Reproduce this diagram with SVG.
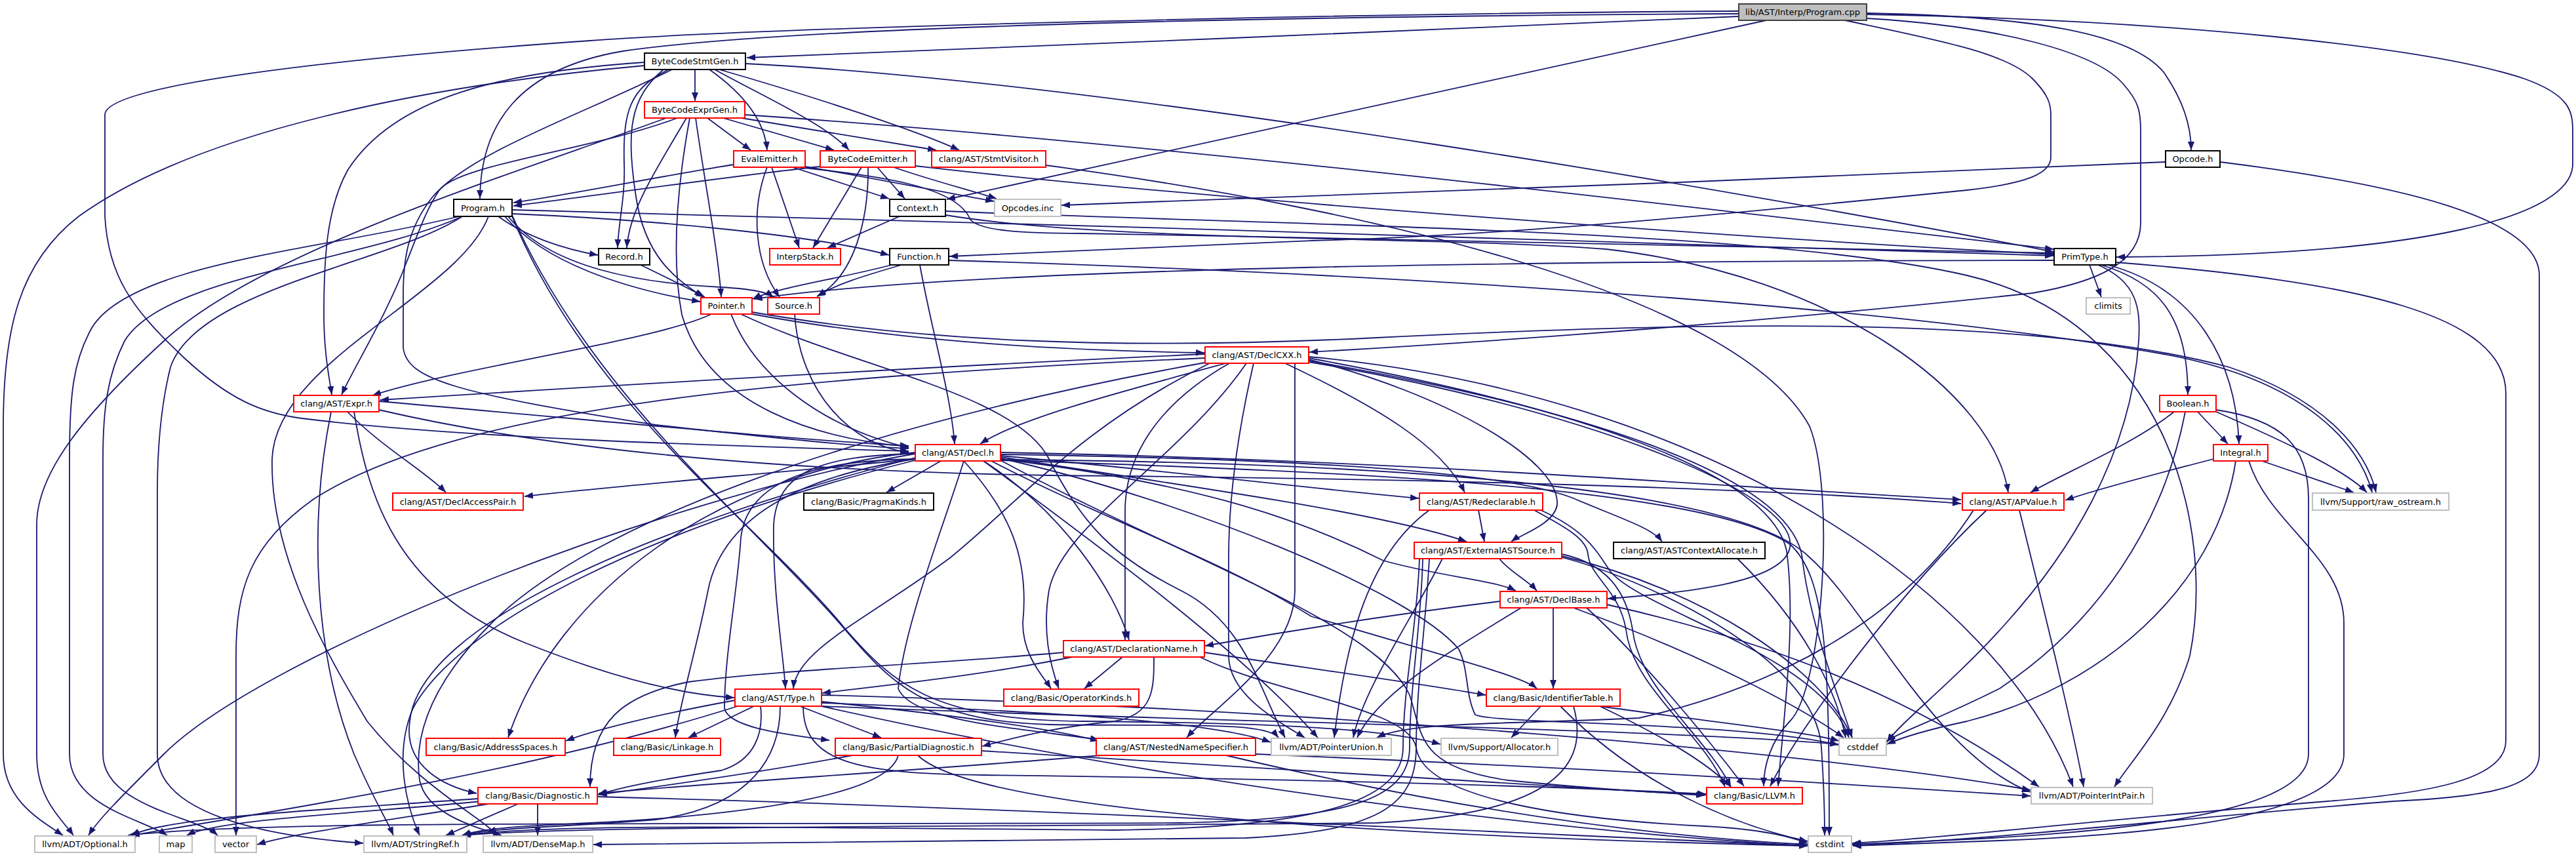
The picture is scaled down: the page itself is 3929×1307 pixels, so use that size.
<svg xmlns="http://www.w3.org/2000/svg" width="3929" height="1307" viewBox="0 0 3929 1307">
<defs>
<style>
.e{fill:none;stroke:#191970;stroke-width:1.8;marker-end:url(#ah)}
.n rect{fill:#fff;stroke-width:2}
.b rect{stroke:#000}
.r rect{stroke:#ff0000}
.g rect{stroke:#bfbfbf}
.root rect{fill:#bfbfbf;stroke:#404040}
.n text{font-family:"DejaVu Sans","Liberation Sans",sans-serif;font-size:13px;text-anchor:middle;fill:#000}
</style>
<marker id="ah" viewBox="0 0 13 10" refX="13" refY="5" markerWidth="13" markerHeight="10" orient="auto" markerUnits="userSpaceOnUse"><path d="M0,0 L13,5 L0,10 Z" fill="#191970"/></marker>
</defs>
<rect width="3929" height="1307" fill="#fff"/>
<g id="edges">
<path class="e" d="M2652,25 C2200,45 1600,70 1139,88"/>
<path class="e" d="M2652,21 C2100,24 1250,35 950,78 C790,105 733,190 732,303"/>
<path class="e" d="M2652,17 C2100,20 1200,40 900,62 C500,90 160,130 160,175 L160,330 C165,420 200,470 280,545 C350,610 400,630 460,638 C700,668 1100,680 1386,688"/>
<path class="e" d="M2694,31 L1444,304"/>
<path class="e" d="M2847,20 C3100,25 3250,50 3300,110 C3335,160 3342,200 3342,229"/>
<path class="e" d="M2847,22 C3300,30 3700,70 3850,120 C3920,145 3924,170 3924,200 L3924,250 C3924,330 3700,390 3228,392"/>
<path class="e" d="M2814,31 C2950,60 3060,80 3100,120 C3125,145 3128,160 3128,175 L3128,240 C3128,265 3090,280 3000,290 C2700,320 2300,360 2000,367 C1800,375 1600,385 1448,391"/>
<path class="e" d="M2847,28 C3050,40 3200,80 3240,130 C3262,155 3265,170 3265,200 L3265,340 C3265,400 3200,430 3100,447 C2700,490 2300,520 1997,537"/>
<path class="e" d="M1060,106 L1060,154"/>
<path class="e" d="M1082,106 C1130,140 1166,180 1170,229"/>
<path class="e" d="M1090,106 C1170,150 1260,190 1295,229"/>
<path class="e" d="M1097,106 C1250,150 1400,200 1463,229"/>
<path class="e" d="M1137,97 C1700,125 2700,300 3132,384"/>
<path class="e" d="M1020,106 C960,135 950,170 952,250 C954,300 943,340 942,378"/>
<path class="e" d="M1012,106 C960,150 955,200 970,300 C985,400 1040,430 1072,453"/>
<path class="e" d="M1025,106 C900,170 720,230 660,300 C620,350 615,400 615,450 L615,530 C620,580 700,600 1000,648 C1200,670 1300,680 1386,684"/>
<path class="e" d="M983,95 C760,110 600,150 530,260 C497,320 494,400 494,480 C494,540 503,580 506,602"/>
<path class="e" d="M983,100 C650,130 300,200 120,330 C30,400 5,500 5,650 L5,1150 C5,1220 60,1250 96,1274"/>
<path class="e" d="M1079,180 L1145,229"/>
<path class="e" d="M1103,180 L1272,229"/>
<path class="e" d="M1131,180 L1428,229"/>
<path class="e" d="M1136,175 C1800,220 2700,330 3132,380"/>
<path class="e" d="M1047,180 C1000,260 960,320 956,378"/>
<path class="e" d="M1061,180 C1075,280 1095,380 1100,453"/>
<path class="e" d="M1052,180 C1030,300 1025,400 1040,480 C1080,620 1250,670 1386,681"/>
<path class="e" d="M1033,180 C900,230 700,250 670,290 C650,320 640,350 620,400 C590,480 540,560 521,602"/>
<path class="e" d="M1016,180 C800,260 400,380 250,520 C130,630 56,720 56,800 L56,1150 C56,1220 95,1250 112,1274"/>
<path class="e" d="M1119,251 C1000,270 880,295 783,309"/>
<path class="e" d="M1170,255 C1145,320 1150,400 1189,453"/>
<path class="e" d="M1177,255 L1219,378"/>
<path class="e" d="M1209,255 L1356,303"/>
<path class="e" d="M1228,254 C1350,275 1450,295 1516,307"/>
<path class="e" d="M1228,256 C1350,270 1460,285 1480,335 C1495,352 1560,356 1650,356 C2200,366 2800,378 3132,386"/>
<path class="e" d="M1251,254 C1100,270 900,300 783,314"/>
<path class="e" d="M1314,255 L1240,378"/>
<path class="e" d="M1324,255 C1325,330 1305,420 1246,452"/>
<path class="e" d="M1338,255 L1380,303"/>
<path class="e" d="M1363,255 C1420,275 1480,290 1520,303"/>
<path class="e" d="M1396,253 C1800,300 2600,360 3132,388"/>
<path class="e" d="M1595,252 C2100,320 2650,450 2760,650 C2800,750 2780,1050 2730,1100 C2700,1130 2690,1170 2690,1199"/>
<path class="e" d="M3303,247 C2800,270 2000,300 1619,313"/>
<path class="e" d="M3386,247 C3650,280 3873,330 3873,420 L3873,1150 C3873,1200 3800,1215 3650,1222 C3300,1250 3000,1285 2825,1288"/>
<path class="e" d="M781,320 C1500,340 2600,370 3132,390"/>
<path class="e" d="M781,326 C1000,335 1250,360 1356,389"/>
<path class="e" d="M760,330 C800,360 860,380 912,389"/>
<path class="e" d="M770,330 C830,400 950,440 1068,460"/>
<path class="e" d="M775,330 C840,410 980,432 1100,438 C1150,441 1170,446 1180,453"/>
<path class="e" d="M745,330 C700,450 420,550 415,700 C412,850 500,1000 560,1100 C640,1200 740,1250 758,1274"/>
<path class="e" d="M781,328 C900,600 1150,800 1280,950 C1350,1030 1400,1100 1600,1105 C1800,1108 1930,1100 1950,1125"/>
<path class="e" d="M781,330 C900,620 1160,800 1290,960 C1360,1040 1420,1098 1650,1100 C1900,1102 2100,1108 2197,1135"/>
<path class="e" d="M705,330 C600,400 300,440 260,560 C245,620 240,680 240,750 L240,1150 C240,1240 400,1275 554,1286"/>
<path class="e" d="M700,330 C500,380 200,400 140,500 C112,550 106,600 106,700 L106,1150 C106,1230 220,1250 255,1274"/>
<path class="e" d="M705,330 C550,400 250,420 190,520 C165,570 157,620 157,700 L157,1150 C157,1230 300,1245 332,1274"/>
<path class="e" d="M1372,330 L1262,378"/>
<path class="e" d="M1442,328 C1700,370 2200,360 2450,380 C2800,420 3040,600 3063,751"/>
<path class="e" d="M1442,322 C2000,345 2700,350 3000,420 C3300,490 3380,800 3340,1000 C3310,1100 3250,1160 3225,1200"/>
<path class="e" d="M977,404 C1010,420 1050,440 1075,453"/>
<path class="e" d="M1403,404 C1420,500 1450,600 1456,677"/>
<path class="e" d="M1375,404 C1320,420 1270,435 1247,452"/>
<path class="e" d="M1360,404 C1280,425 1180,440 1148,456"/>
<path class="e" d="M1447,397 C2200,420 2900,470 3300,540 C3520,580 3600,680 3618,751"/>
<path class="e" d="M1212,479 C1220,600 1300,680 1386,690"/>
<path class="e" d="M3187,404 L3205,453"/>
<path class="e" d="M3205,404 C3290,430 3337,480 3337,602"/>
<path class="e" d="M3215,404 C3350,440 3410,550 3415,677"/>
<path class="e" d="M3200,404 C3260,430 3265,470 3262,520 C3250,700 3150,850 3060,950 C2980,1040 2900,1100 2878,1132"/>
<path class="e" d="M3227,400 C3600,430 3822,480 3822,600 L3822,1130 C3822,1190 3700,1210 3550,1222 C3200,1250 2950,1280 2825,1286"/>
<path class="e" d="M3133,397 C2400,398 1500,405 1150,456"/>
<path class="e" d="M1115,479 C1150,570 1250,650 1386,683"/>
<path class="e" d="M1147,479 C1400,525 1650,535 1837,538"/>
<path class="e" d="M1085,479 C1000,520 700,560 568,603"/>
<path class="e" d="M1130,479 C1300,560 1550,600 1600,700 C1650,800 1700,850 1800,900 C1900,950 1920,1050 1960,1125"/>
<path class="e" d="M1147,476 C1400,520 1700,535 2100,515 C2600,490 3100,480 3400,560 C3550,610 3610,690 3624,751"/>
<path class="e" d="M1870,554 C1700,600 1550,640 1495,677"/>
<path class="e" d="M1838,540 C1400,560 900,590 580,610"/>
<path class="e" d="M1838,546 C1200,575 700,620 480,760 C380,830 360,900 360,1000 L360,1274"/>
<path class="e" d="M1845,554 C1650,650 1560,760 1450,850 C1330,940 1215,990 1210,1050"/>
<path class="e" d="M1996,552 C2400,620 2745,750 2730,835 C2720,890 2560,905 2452,913"/>
<path class="e" d="M1875,554 C1760,620 1716,700 1716,780 L1716,976"/>
<path class="e" d="M1901,554 C1800,700 1620,800 1600,900 C1590,960 1600,1010 1615,1050"/>
<path class="e" d="M1912,554 C1890,650 1874,750 1874,850 L1874,1000 C1874,1060 1950,1100 1990,1125"/>
<path class="e" d="M1975,554 L1975,900 C1975,1000 1850,1080 1810,1125"/>
<path class="e" d="M1960,554 C2100,620 2200,680 2234,751"/>
<path class="e" d="M1996,548 C2200,600 2380,700 2375,770 C2370,800 2320,815 2305,826"/>
<path class="e" d="M1996,546 C2400,620 2700,720 2725,840 C2740,950 2720,1100 2712,1199"/>
<path class="e" d="M1996,544 C2600,600 3050,900 3162,1200"/>
<path class="e" d="M1996,550 C2400,620 2720,720 2748,845 C2760,950 2800,1050 2825,1125"/>
<path class="e" d="M1838,553 C1300,650 900,800 750,950 C660,1040 630,1120 640,1190 C650,1240 720,1260 765,1274"/>
<path class="e" d="M578,612 C900,640 1200,670 1386,680"/>
<path class="e" d="M578,625 C900,700 1300,720 1600,725 C2200,730 2700,745 2991,768"/>
<path class="e" d="M530,628 C580,680 650,720 680,751"/>
<path class="e" d="M540,628 C560,750 600,900 800,980 C950,1040 1050,1060 1120,1064"/>
<path class="e" d="M505,628 C470,800 480,1000 540,1150 C570,1220 590,1250 600,1274"/>
<path class="e" d="M1526,690 C2100,700 2600,740 2991,762"/>
<path class="e" d="M1526,693 C2000,700 2300,720 2400,760 C2470,790 2520,805 2535,826"/>
<path class="e" d="M1396,700 C1200,720 950,740 800,757"/>
<path class="e" d="M1526,700 C1850,740 2000,800 2110,855 C2200,880 2280,885 2312,901"/>
<path class="e" d="M1500,703 C1620,780 1700,900 1722,976"/>
<path class="e" d="M1526,697 C1800,740 2100,780 2237,826"/>
<path class="e" d="M1470,703 C1440,800 1380,950 1370,1050 C1390,1100 1550,1110 1676,1128"/>
<path class="e" d="M1526,695 C1800,720 2000,745 2164,760"/>
<path class="e" d="M1396,692 C1250,695 1185,720 1180,800 C1178,900 1195,1000 1198,1050"/>
<path class="e" d="M1396,690 C1100,720 850,900 775,1125"/>
<path class="e" d="M1396,698 C1000,800 640,950 625,1100 C615,1170 680,1200 727,1210"/>
<path class="e" d="M1512,703 C1700,800 1856,850 2000,940 C2200,1000 2320,1030 2344,1050"/>
<path class="e" d="M1526,702 C1800,850 2100,950 2150,1060 C2170,1120 2160,1170 2300,1190 C2450,1205 2550,1210 2602,1212"/>
<path class="e" d="M1396,700 C1200,730 1100,800 1080,900 C1060,1000 1035,1080 1030,1125"/>
<path class="e" d="M1470,703 C1540,780 1570,850 1560,950 C1560,1000 1590,1030 1603,1050"/>
<path class="e" d="M1396,700 C1250,702 1140,730 1130,820 C1125,900 1105,1000 1105,1080 C1110,1110 1200,1120 1265,1129"/>
<path class="e" d="M1435,703 L1352,751"/>
<path class="e" d="M1396,692 C1000,760 400,1000 250,1150 C180,1220 150,1250 135,1274"/>
<path class="e" d="M1526,701 C2100,705 2650,740 2760,850 C2850,930 2950,1150 3097,1208"/>
<path class="e" d="M1500,703 C1700,850 1900,1000 2010,1125"/>
<path class="e" d="M1396,702 C1000,800 700,950 630,1080 C600,1150 620,1230 640,1274"/>
<path class="e" d="M1526,699 C1800,760 2150,900 2225,990 C2240,1020 2235,1060 2250,1090 C2280,1105 2650,1100 2804,1136"/>
<path class="e" d="M1526,702 C2100,720 2600,745 2730,830 C2785,880 2790,1000 2790,1274"/>
<path class="e" d="M2255,778 L2264,826"/>
<path class="e" d="M2340,778 C2380,800 2420,820 2422,845 C2425,880 2470,900 2480,960 C2490,1050 2600,1120 2631,1200"/>
<path class="e" d="M2180,778 C2080,850 2050,1000 2035,1125"/>
<path class="e" d="M2350,778 C2420,810 2435,840 2455,870 C2500,930 2780,1000 2820,1125"/>
<path class="e" d="M3080,778 C3110,900 3160,1100 3178,1200"/>
<path class="e" d="M3030,778 C2900,900 2750,1100 2700,1199"/>
<path class="e" d="M3010,778 C2900,950 2700,1050 2500,1095 C2300,1105 2150,1100 2100,1125"/>
<path class="e" d="M2287,852 C2300,870 2330,885 2344,901"/>
<path class="e" d="M2382,845 C2450,860 2480,900 2490,960 C2500,1050 2600,1120 2640,1200"/>
<path class="e" d="M2180,852 C2175,950 2160,1050 2160,1140 C2160,1230 2100,1268 1900,1278 C1500,1285 1100,1287 905,1288"/>
<path class="e" d="M2170,852 C2168,950 2150,1050 2150,1140 C2150,1220 2050,1250 1800,1255 C1000,1258 400,1250 195,1274"/>
<path class="e" d="M2200,852 C2150,950 2080,1050 2064,1125"/>
<path class="e" d="M2165,852 C2162,950 2140,1050 2140,1140 C2140,1225 2000,1262 1700,1266 C1200,1262 850,1255 705,1274"/>
<path class="e" d="M2382,848 C2600,900 2780,1020 2825,1125"/>
<path class="e" d="M2382,850 C2500,880 2770,1000 2778,1140 C2782,1200 2783,1240 2783,1274"/>
<path class="e" d="M2650,852 C2750,950 2800,1050 2815,1125"/>
<path class="e" d="M2288,917 C2100,940 1950,965 1838,985"/>
<path class="e" d="M2369,927 L2369,1050"/>
<path class="e" d="M2420,927 C2500,1000 2600,1120 2660,1199"/>
<path class="e" d="M2451,922 C2800,1000 3000,1120 3110,1200"/>
<path class="e" d="M2320,927 C2200,1000 2100,1060 2070,1125"/>
<path class="e" d="M2400,927 C2600,1000 2750,1080 2812,1125"/>
<path class="e" d="M1635,1002 C1500,1030 1350,1045 1254,1057"/>
<path class="e" d="M1622,995 C1400,1015 1200,1020 1050,1040 C950,1060 900,1100 900,1200"/>
<path class="e" d="M1837,995 C2000,1020 2150,1040 2266,1060"/>
<path class="e" d="M1712,1002 L1654,1050"/>
<path class="e" d="M1760,1002 C1760,1050 1760,1090 1700,1100 C1600,1110 1550,1125 1498,1138"/>
<path class="e" d="M1830,1002 C1950,1060 2150,1080 2160,1140 C2170,1220 2400,1250 2600,1260 C2700,1265 2740,1280 2757,1286"/>
<path class="e" d="M1253,1070 C1450,1090 1600,1110 1676,1130"/>
<path class="e" d="M1121,1068 C1000,1090 900,1115 863,1130"/>
<path class="e" d="M1160,1077 C1165,1120 1150,1160 1100,1175 C1000,1190 950,1200 912,1212"/>
<path class="e" d="M1225,1077 C1225,1160 1300,1180 1500,1182 C2000,1188 2400,1200 2602,1211"/>
<path class="e" d="M1150,1077 L1050,1125"/>
<path class="e" d="M1220,1077 L1344,1125"/>
<path class="e" d="M1125,1077 C800,1180 400,1240 200,1274"/>
<path class="e" d="M1253,1060 C2000,1080 2800,1150 3097,1205"/>
<path class="e" d="M1253,1072 C1600,1085 1850,1100 1938,1132"/>
<path class="e" d="M1190,1077 C1190,1150 1150,1230 1000,1250 C850,1262 750,1262 705,1274"/>
<path class="e" d="M1253,1077 C1800,1100 2500,1110 2804,1135"/>
<path class="e" d="M1253,1077 C1800,1200 2400,1270 2757,1290"/>
<path class="e" d="M2440,1077 C2530,1120 2600,1160 2640,1200"/>
<path class="e" d="M2400,1077 C2420,1150 2400,1240 2100,1255 C1500,1262 900,1258 705,1274"/>
<path class="e" d="M2350,1077 L2305,1125"/>
<path class="e" d="M2440,1077 C2600,1100 2750,1115 2805,1130"/>
<path class="e" d="M2380,1077 C2500,1200 2650,1260 2757,1283"/>
<path class="e" d="M1300,1152 C1150,1180 1000,1200 913,1212"/>
<path class="e" d="M1497,1145 C1900,1170 2300,1195 2600,1213"/>
<path class="e" d="M1370,1152 C1350,1230 1000,1250 900,1255 C800,1260 740,1262 705,1274"/>
<path class="e" d="M1400,1152 C1500,1250 2300,1280 2757,1290"/>
<path class="e" d="M1680,1152 C1400,1175 1000,1200 913,1210"/>
<path class="e" d="M1915,1150 C2400,1170 2800,1195 3097,1214"/>
<path class="e" d="M1870,1152 C2200,1230 2500,1275 2757,1288"/>
<path class="e" d="M820,1226 L820,1274"/>
<path class="e" d="M729,1218 C500,1235 260,1245 200,1274"/>
<path class="e" d="M790,1226 L680,1274"/>
<path class="e" d="M911,1215 C1500,1230 2300,1270 2757,1290"/>
<path class="e" d="M735,1222 C550,1240 330,1250 285,1274"/>
<path class="e" d="M745,1226 C600,1250 450,1270 392,1288"/>
<path class="e" d="M3316,628 C3250,680 3150,720 3097,751"/>
<path class="e" d="M3333,628 C3300,800 3200,950 3050,1050 C2950,1100 2900,1115 2878,1130"/>
<path class="e" d="M3352,628 L3398,677"/>
<path class="e" d="M3380,628 C3500,680 3580,720 3610,751"/>
<path class="e" d="M3380,625 C3480,640 3521,680 3521,760 L3521,1150 C3521,1230 3300,1265 3000,1280 C2900,1285 2850,1287 2826,1288"/>
<path class="e" d="M3376,700 C3300,720 3200,745 3150,763"/>
<path class="e" d="M3450,703 L3590,751"/>
<path class="e" d="M3410,703 C3380,900 3200,1050 3000,1100 C2930,1115 2900,1125 2878,1135"/>
<path class="e" d="M3430,703 C3460,800 3575,850 3575,950 L3575,1150 C3575,1235 3350,1270 3050,1282 C2950,1286 2870,1289 2826,1290"/>
</g>
<g id="n-program-cpp" class="n root"><rect x="2652" y="6" width="195" height="25"/><text x="2749.5" y="23">lib/AST/Interp/Program.cpp</text></g>
<g id="n-bytecodestmtgen" class="n b"><rect x="983" y="81" width="154" height="25"/><text x="1060" y="98">ByteCodeStmtGen.h</text></g>
<g id="n-bytecodeexprgen" class="n r"><rect x="983" y="155" width="153" height="25"/><text x="1059.5" y="172">ByteCodeExprGen.h</text></g>
<g id="n-evalemitter" class="n r"><rect x="1119" y="230" width="109" height="25"/><text x="1173.5" y="247">EvalEmitter.h</text></g>
<g id="n-bytecodeemitter" class="n r"><rect x="1251" y="230" width="145" height="25"/><text x="1323.5" y="247">ByteCodeEmitter.h</text></g>
<g id="n-stmtvisitor" class="n r"><rect x="1421" y="230" width="174" height="25"/><text x="1508" y="247">clang/AST/StmtVisitor.h</text></g>
<g id="n-opcode" class="n b"><rect x="3303" y="230" width="83" height="25"/><text x="3344.5" y="247">Opcode.h</text></g>
<g id="n-program-h" class="n b"><rect x="692" y="304" width="89" height="26"/><text x="736.5" y="322">Program.h</text></g>
<g id="n-context" class="n b"><rect x="1357" y="304" width="85" height="26"/><text x="1399.5" y="322">Context.h</text></g>
<g id="n-opcodes-inc" class="n g"><rect x="1517" y="304" width="101" height="26"/><text x="1567.5" y="322">Opcodes.inc</text></g>
<g id="n-record" class="n b"><rect x="913" y="379" width="78" height="25"/><text x="952" y="396">Record.h</text></g>
<g id="n-interpstack" class="n r"><rect x="1174" y="379" width="108" height="25"/><text x="1228" y="396">InterpStack.h</text></g>
<g id="n-function" class="n b"><rect x="1357" y="379" width="90" height="25"/><text x="1402" y="396">Function.h</text></g>
<g id="n-primtype" class="n b"><rect x="3133" y="379" width="94" height="25"/><text x="3180" y="396">PrimType.h</text></g>
<g id="n-pointer" class="n r"><rect x="1069" y="454" width="78" height="25"/><text x="1108" y="471">Pointer.h</text></g>
<g id="n-source" class="n r"><rect x="1171" y="454" width="79" height="25"/><text x="1210.5" y="471">Source.h</text></g>
<g id="n-climits" class="n g"><rect x="3182" y="454" width="67" height="25"/><text x="3215.5" y="471">climits</text></g>
<g id="n-declcxx" class="n r"><rect x="1838" y="529" width="158" height="25"/><text x="1917" y="546">clang/AST/DeclCXX.h</text></g>
<g id="n-expr" class="n r"><rect x="448" y="603" width="130" height="25"/><text x="513" y="620">clang/AST/Expr.h</text></g>
<g id="n-boolean" class="n r"><rect x="3294" y="603" width="86" height="25"/><text x="3337" y="620">Boolean.h</text></g>
<g id="n-decl" class="n r"><rect x="1396" y="678" width="130" height="25"/><text x="1461" y="695">clang/AST/Decl.h</text></g>
<g id="n-integral" class="n r"><rect x="3376" y="678" width="83" height="25"/><text x="3417.5" y="695">Integral.h</text></g>
<g id="n-declaccesspair" class="n r"><rect x="599" y="752" width="199" height="26"/><text x="698.5" y="770">clang/AST/DeclAccessPair.h</text></g>
<g id="n-pragmakinds" class="n b"><rect x="1226" y="752" width="198" height="26"/><text x="1325" y="770">clang/Basic/PragmaKinds.h</text></g>
<g id="n-redeclarable" class="n r"><rect x="2165" y="752" width="188" height="26"/><text x="2259" y="770">clang/AST/Redeclarable.h</text></g>
<g id="n-apvalue" class="n r"><rect x="2993" y="752" width="155" height="26"/><text x="3070.5" y="770">clang/AST/APValue.h</text></g>
<g id="n-raw-ostream" class="n g"><rect x="3527" y="752" width="208" height="26"/><text x="3631" y="770">llvm/Support/raw_ostream.h</text></g>
<g id="n-externalastsource" class="n r"><rect x="2157" y="827" width="225" height="25"/><text x="2269.5" y="844">clang/AST/ExternalASTSource.h</text></g>
<g id="n-astcontextallocate" class="n b"><rect x="2461" y="827" width="231" height="25"/><text x="2576.5" y="844">clang/AST/ASTContextAllocate.h</text></g>
<g id="n-declbase" class="n r"><rect x="2288" y="902" width="163" height="25"/><text x="2369.5" y="919">clang/AST/DeclBase.h</text></g>
<g id="n-declarationname" class="n r"><rect x="1622" y="977" width="215" height="25"/><text x="1729.5" y="994">clang/AST/DeclarationName.h</text></g>
<g id="n-type" class="n r"><rect x="1121" y="1051" width="132" height="26"/><text x="1187" y="1069">clang/AST/Type.h</text></g>
<g id="n-operatorkinds" class="n r"><rect x="1531" y="1051" width="206" height="26"/><text x="1634" y="1069">clang/Basic/OperatorKinds.h</text></g>
<g id="n-identifiertable" class="n r"><rect x="2267" y="1051" width="204" height="26"/><text x="2369" y="1069">clang/Basic/IdentifierTable.h</text></g>
<g id="n-addressspaces" class="n r"><rect x="650" y="1126" width="212" height="26"/><text x="756" y="1144">clang/Basic/AddressSpaces.h</text></g>
<g id="n-linkage" class="n r"><rect x="936" y="1126" width="163" height="26"/><text x="1017.5" y="1144">clang/Basic/Linkage.h</text></g>
<g id="n-partialdiagnostic" class="n r"><rect x="1274" y="1126" width="223" height="26"/><text x="1385.5" y="1144">clang/Basic/PartialDiagnostic.h</text></g>
<g id="n-nestednamespecifier" class="n r"><rect x="1672" y="1126" width="243" height="26"/><text x="1793.5" y="1144">clang/AST/NestedNameSpecifier.h</text></g>
<g id="n-pointerunion" class="n g"><rect x="1939" y="1126" width="183" height="26"/><text x="2030.5" y="1144">llvm/ADT/PointerUnion.h</text></g>
<g id="n-allocator" class="n g"><rect x="2198" y="1126" width="178" height="26"/><text x="2287" y="1144">llvm/Support/Allocator.h</text></g>
<g id="n-cstddef" class="n g"><rect x="2805" y="1126" width="72" height="26"/><text x="2841" y="1144">cstddef</text></g>
<g id="n-diagnostic" class="n r"><rect x="729" y="1201" width="182" height="25"/><text x="820" y="1218">clang/Basic/Diagnostic.h</text></g>
<g id="n-llvm" class="n r"><rect x="2603" y="1201" width="146" height="25"/><text x="2676" y="1218">clang/Basic/LLVM.h</text></g>
<g id="n-pointerintpair" class="n g"><rect x="3098" y="1201" width="185" height="25"/><text x="3190.5" y="1218">llvm/ADT/PointerIntPair.h</text></g>
<g id="n-optional" class="n g"><rect x="53" y="1275" width="153" height="25"/><text x="129.5" y="1292">llvm/ADT/Optional.h</text></g>
<g id="n-map" class="n g"><rect x="243" y="1275" width="50" height="25"/><text x="268" y="1292">map</text></g>
<g id="n-vector" class="n g"><rect x="328" y="1275" width="63" height="25"/><text x="359.5" y="1292">vector</text></g>
<g id="n-stringref" class="n g"><rect x="555" y="1275" width="157" height="25"/><text x="633.5" y="1292">llvm/ADT/StringRef.h</text></g>
<g id="n-densemap" class="n g"><rect x="737" y="1275" width="167" height="25"/><text x="820.5" y="1292">llvm/ADT/DenseMap.h</text></g>
<g id="n-cstdint" class="n g"><rect x="2758" y="1275" width="66" height="25"/><text x="2791" y="1292">cstdint</text></g>
</svg>
